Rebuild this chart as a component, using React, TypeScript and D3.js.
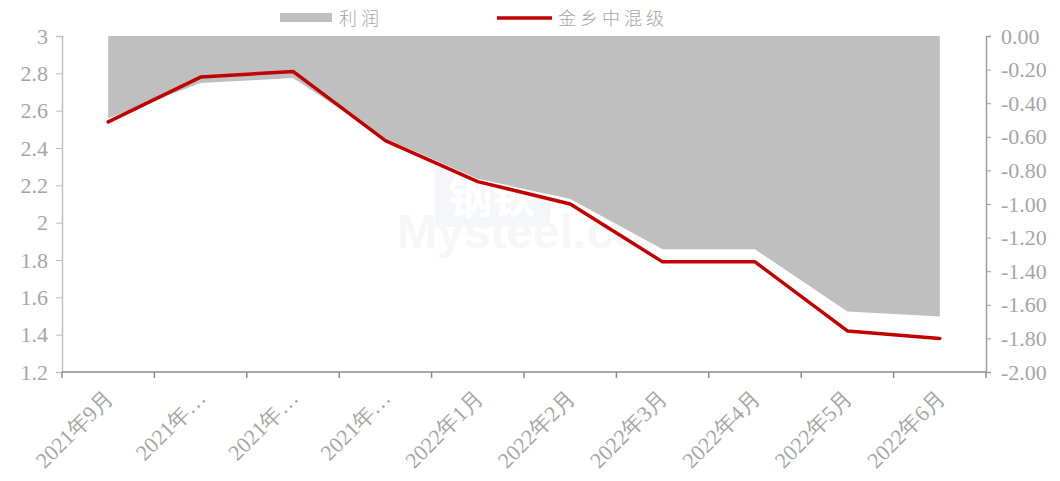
import React, { useEffect, useRef } from 'react';
import * as d3 from 'd3';

const months = ['2021年9月', '2021年10月', '2021年11月', '2021年12月', '2022年1月', '2022年2月', '2022年3月', '2022年4月', '2022年5月', '2022年6月'];
// 金乡中混级 price (left axis)
const priceValues = [2.54, 2.78, 2.81, 2.44, 2.22, 2.10, 1.79, 1.79, 1.42, 1.38];
// 利润 profit (right axis)
const profitValues = [-0.49, -0.28, -0.25, -0.61, -0.85, -0.97, -1.27, -1.27, -1.64, -1.67];
const leftTicks = [1.2, 1.4, 1.6, 1.8, 2, 2.2, 2.4, 2.6, 2.8, 3];
const rightTicks = [0, -0.2, -0.4, -0.6, -0.8, -1, -1.2, -1.4, -1.6, -1.8, -2];

const W = 1060;
const H = 481;
const margin = { top: 36, right: 74, bottom: 109, left: 62 };
const textGray = '#a6a6a6';
const serif = '"Liberation Serif", "Times New Roman", serif';

export default function App() {
  const ref = useRef<SVGSVGElement>(null);

  useEffect(() => {
    if (!ref.current) return;
    const svg = d3.select(ref.current);
    svg.selectAll('*').remove();

    const width = W - margin.left - margin.right;
    const height = H - margin.top - margin.bottom;

    const g = svg.append('g').attr('transform', `translate(${margin.left},${margin.top})`);

    const x = d3.scaleBand().domain(months).range([0, width]);
    const cx = (d: string) => (x(d) || 0) + x.bandwidth() / 2;
    const yL = d3.scaleLinear().domain([1.2, 3]).range([height, 0]);
    const yR = d3.scaleLinear().domain([-2, 0]).range([height, 0]);

    // faint watermark
    const wm = g.append('g');
    wm.append('rect').attr('x', 373).attr('y', 131).attr('width', 115).attr('height', 60).attr('fill', '#f5f6fa');
    wm.append('text').attr('x', 430).attr('y', 178).attr('text-anchor', 'middle')
      .style('font-family', '"Noto Sans CJK SC"').style('font-size', '44px').style('font-weight', 700)
      .attr('fill', '#ffffff').text('钢铁');
    wm.append('text').attr('x', 335).attr('y', 212)
      .style('font-family', 'Arial, "Liberation Sans", sans-serif').style('font-size', '48px').style('font-weight', 700)
      .attr('fill', '#f7f7f7').text('Mysteel.com');

    // profit area hanging from 0
    const area = d3.area<number>()
      .x((_, i) => cx(months[i]))
      .y0(yR(0))
      .y1(d => yR(d));
    g.append('path').datum(profitValues).attr('fill', '#bfbfbf').attr('d', area);

    // price line
    const line = d3.line<number>()
      .x((_, i) => cx(months[i]))
      .y(d => yL(d));
    g.append('path').datum(priceValues)
      .attr('fill', 'none').attr('stroke', '#c00000').attr('stroke-width', 3.5)
      .attr('stroke-linejoin', 'round').attr('stroke-linecap', 'round').attr('d', line);

    // left axis
    const left = g.append('g').call(d3.axisLeft(yL).tickValues(leftTicks).tickSize(6).tickPadding(8).tickFormat(d => `${d}`));
    left.select('.domain').attr('stroke', '#bfbfbf').attr('stroke-width', 1.5);
    left.selectAll('.tick line').attr('stroke', '#bfbfbf');
    left.selectAll('text').attr('fill', textGray).style('font-family', serif).style('font-size', '22px');

    // right axis
    const right = g.append('g').attr('transform', `translate(${width},0)`)
      .call(d3.axisRight(yR).tickValues(rightTicks).tickSize(5).tickPadding(10).tickFormat(d => (d as number).toFixed(2)));
    right.select('.domain').attr('stroke', '#a0a0a0').attr('stroke-width', 1.5);
    right.selectAll('.tick line').attr('stroke', '#a0a0a0');
    right.selectAll('text').attr('fill', textGray).style('font-family', serif).style('font-size', '22px');

    // bottom axis with ticks at category boundaries
    const bottom = g.append('g').attr('transform', `translate(0,${height})`);
    bottom.append('line').attr('x1', 0).attr('x2', width).attr('stroke', '#8c8c8c').attr('stroke-width', 1.5);
    const bounds = months.map(m => x(m) || 0).concat([width]);
    bottom.selectAll('line.tk').data(bounds).enter().append('line').attr('class', 'tk')
      .attr('x1', d => d).attr('x2', d => d).attr('y1', 0).attr('y2', 6)
      .attr('stroke', '#8c8c8c').attr('stroke-width', 1.5);
    bottom.selectAll('text').data(months).enter().append('text')
      .attr('transform', d => `translate(${cx(d) + 1},${22}) rotate(-45)`)
      .attr('text-anchor', 'end')
      .attr('dy', '0.35em')
      .attr('fill', textGray)
      .style('font-family', serif).style('font-size', '22px')
      .text(d => (d.length > 7 ? d.slice(0, 5) + '…' : d));

    // legend
    const lg = svg.append('g');
    lg.append('rect').attr('x', 280).attr('y', 13).attr('width', 52).attr('height', 9).attr('fill', '#bfbfbf');
    lg.append('text').attr('x', 339).attr('y', 25).attr('fill', textGray)
      .style('font-family', '"Noto Sans CJK SC"').style('font-size', '18px').style('font-weight', 300).style('letter-spacing', '4px').text('利润');
    lg.append('line').attr('x1', 497).attr('x2', 552).attr('y1', 18).attr('y2', 18)
      .attr('stroke', '#c00000').attr('stroke-width', 3.5);
    lg.append('text').attr('x', 558).attr('y', 25).attr('fill', textGray)
      .style('font-family', '"Noto Sans CJK SC"').style('font-size', '18px').style('font-weight', 300).style('letter-spacing', '4px').text('金乡中混级');
  }, []);

  return (
    <div style={{ width: W, height: H, margin: -8, background: '#fff' }}>
      <svg ref={ref} width={W} height={H} role="img" aria-label="利润与金乡中混级价格走势" />
    </div>
  );
}
